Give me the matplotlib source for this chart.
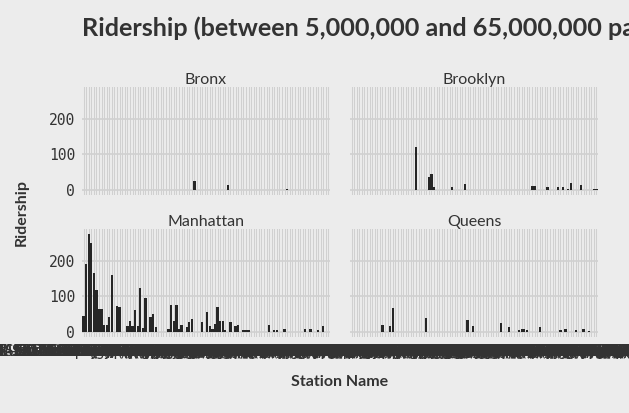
import matplotlib
matplotlib.use("Agg")
import matplotlib.pyplot as plt
import numpy as np

# ---------------- data ----------------
stations = [
    "103 St (1)", "110 St-Cathedral Pkwy (1)", "116 St-Columbia University (1)", "125 St (4,5,6)",
    "14 St (1,2,3)", "14 St-Union Sq (4,5,6,L,N,Q,R,W)", "145 St (A,B,C,D)", "149 St-Grand Concourse (2,4,5)",
    "157 St (1)", "161 St-Yankee Stadium (4,B,D)", "168 St-Washington Hts (1,A,C)", "18 Av (D)",
    "181 St (1)", "20 Av (N)", "23 St (4,5,6)", "25 Av (D)",
    "28 St (N,R,W)", "33 St (6)", "34 St-Herald Sq (B,D,F,M,N,Q,R,W)", "34 St-Penn Station (1,2,3)",
    "36 St (D,N,R)", "42 St-Bryant Pk (B,D,F,M,7)", "42 St-Port Authority Bus Terminal (A,C,E)", "47-50 Sts-Rockefeller Ctr (B,D,F,M)",
    "49 St (N,R,W)", "50 St (1)", "51 St (6)", "57 St-7 Av (N,Q,R,W)",
    "59 St (N,R)", "59 St-Columbus Circle (1,A,B,C,D)", "66 St-Lincoln Center (1)", "68 St-Hunter College (6)",
    "7 Av (B,D,E)", "72 St (1,2,3)", "74 St-Broadway (7)", "77 St (6)",
    "79 St (1)", "8 Av (L)", "8 St-NYU (N,R,W)", "81 St-Museum of Natural History (B,C)",
    "86 St (4,5,6)", "9 Av (D)", "96 St (1,2,3)", "Astor Pl (6)",
    "Atlantic Av-Barclays Ctr (2,3,4,5,B,D,N,Q,R)", "Bedford Av (L)", "Borough Hall (2,3,4,5,R)", "Bowling Green (4,5)",
    "Broad St (J,Z)", "Broadway Junction (A,C,J,L,Z)", "Brooklyn Bridge-City Hall (4,5,6,J,Z)", "Canal St (J,N,Q,R,W,Z,6)",
    "Chambers St (1,2,3)", "Christopher St-Sheridan Sq (1)", "Church Av (2,5)", "City Hall (R,W)",
    "Clark St (2,3)", "Court Sq (7,E,G,M)", "Court St (R)", "Cortlandt St (R,W)",
    "DeKalb Av (B,Q,R)", "Delancey St-Essex St (F,J,M,Z)", "Dyckman St (1)", "East Broadway (F)",
    "Flushing-Main St (7)", "Forest Hills-71 Av (E,F,M,R)", "Franklin Av (2,3,4,5)", "Fulton St (2,3,4,5,A,C,J,Z)",
    "Grand Central-42 St (4,5,6,7,S)", "Grand St (B,D)", "Hoyt-Schermerhorn Sts (A,C,G)", "Hunters Point Av (7)",
    "Jackson Hts-Roosevelt Av (7,E,F,M,R)", "Jamaica Center-Parsons/Archer (E,J,Z)", "Jay St-MetroTech (A,C,F,R)", "Kew Gardens-Union Tpke (E,F)",
    "Lexington Av/53 St (E,M,6)", "Lexington Av/59 St (4,5,6,N,R,W)", "Marcy Av (J,M,Z)", "Nostrand Av (A,C)",
    "Park Pl (2,3)", "Parkchester (6)", "Prince St (N,R,W)", "Queens Plaza (E,M,R)",
    "Queensboro Plaza (7,N,W)", "Rector St (1)", "Smith-9 Sts (F,G)", "South Ferry (1)",
    "Spring St (6)", "Sutphin Blvd-Archer Av-JFK Airport (E,J,Z)", "Times Sq-42 St (1,2,3,7,N,Q,R,S,W)", "Wall St (2,3)",
    "West 4 St-Washington Sq (A,B,C,D,E,F,M)", "Whitehall St-South Ferry (R,W)", "Woodhaven Blvd (J,Z)", "World Trade Center (E)",
]

# ridership by station position (1-based) for each borough
bronx = {44: 26, 57: 14, 80: 3}
brooklyn = {26: 120, 31: 36, 32: 45, 33: 8, 40: 8, 45: 17, 71: 11, 72: 11,
            77: 8, 81: 8, 83: 8, 85: 3, 86: 20, 90: 14, 95: 3, 96: 3}
manhattan = {1: 46, 2: 190, 3: 274, 4: 250, 5: 165, 6: 118, 7: 66, 8: 66, 9: 21, 10: 21,
             11: 41, 12: 160, 14: 72, 15: 70, 18: 16, 19: 32, 20: 16, 21: 62, 22: 16, 23: 124,
             24: 12, 25: 96, 27: 41, 28: 52, 29: 14, 34: 10, 35: 77, 36: 32, 37: 75, 38: 10,
             39: 21, 41: 14, 42: 29, 43: 38, 47: 27, 49: 57, 50: 16, 51: 10, 52: 23, 53: 71,
             54: 32, 55: 30, 56: 6, 58: 29, 60: 16, 61: 21, 63: 7, 64: 7, 65: 7, 73: 19,
             75: 5, 76: 5, 79: 8, 87: 10, 89: 10, 92: 5, 94: 16}
queens = {13: 19, 16: 16, 17: 68, 30: 39, 46: 35, 48: 17, 59: 25, 62: 13, 66: 6, 67: 9,
          68: 10, 69: 6, 74: 13, 82: 6, 84: 10, 88: 6, 91: 10, 93: 4}

boroughs = ["Bronx", "Brooklyn", "Manhattan", "Queens"]
values = [bronx, brooklyn, manhattan, queens]
yticks = [0, 100, 200]

title = "Ridership (between 5,000,000 and 65,000,000 passengers)"
xlabel = "Station Name"
ylabel = "Ridership"

# ---------------- style ----------------
BG = "#ececec"
GRID = "#d0d0d0"
TXT = "#333333"
BAR = "#262626"
SANS = ["Lato", "DejaVu Sans"]
MONO = ["DejaVu Sans Mono"]

W, H = 629, 413
fig = plt.figure(figsize=(W / 100, H / 100), dpi=100, facecolor=BG)

N = len(stations)
xpos = np.arange(1, N + 1)

panels = {
    "Bronx": (82, 87), "Brooklyn": (350, 87),
    "Manhattan": (82, 229), "Queens": (350, 229),
}
pw, ph = 248, 108

for name, vals in zip(boroughs, values):
    px, py = panels[name]
    ax = fig.add_axes([px / W, 1 - (py + ph) / H, pw / W, ph / H])
    ax.set_facecolor(BG)
    for s in ax.spines.values():
        s.set_visible(False)
    heights = [vals.get(i, 0) for i in xpos]
    ax.bar(xpos, heights, width=0.9, color=BAR, linewidth=0, zorder=3)
    ax.set_xlim(0.4, N + 0.6)
    ax.set_ylim(-13.75, 288.75)
    ax.set_xticks(xpos)
    ax.set_yticks(yticks)
    ax.grid(axis="x", color=GRID, linewidth=0.75, zorder=0)
    ax.grid(axis="y", color=GRID, linewidth=1.2, zorder=0)
    ax.tick_params(length=0, pad=5, colors=TXT)
    bottom = py > 200
    left = px < 200
    if bottom:
        ax.set_xticklabels(stations, family=MONO, fontsize=10.5, color=TXT)
    else:
        ax.set_xticklabels([])
    if left:
        ax.set_yticklabels([str(t) for t in yticks], family=MONO, fontsize=10.5, color=TXT)
    else:
        ax.set_yticklabels([])
    ax.set_title(name, family=SANS, fontsize=11.5, color=TXT, pad=1.5)

fig.text(82 / W, 1 - 28 / H, title, family=SANS, fontsize=18.2, fontweight="bold",
         color=TXT, ha="left", va="center")
fig.text(340 / W, 1 - 382 / H, xlabel, family=SANS, fontsize=11.5, fontweight="bold",
         color=TXT, ha="center", va="center")
fig.text(22 / W, 1 - 212 / H, ylabel, family=SANS, fontsize=11.5, fontweight="bold",
         color=TXT, ha="center", va="center", rotation=90)

fig.savefig("out.png", dpi=100, facecolor=BG)
